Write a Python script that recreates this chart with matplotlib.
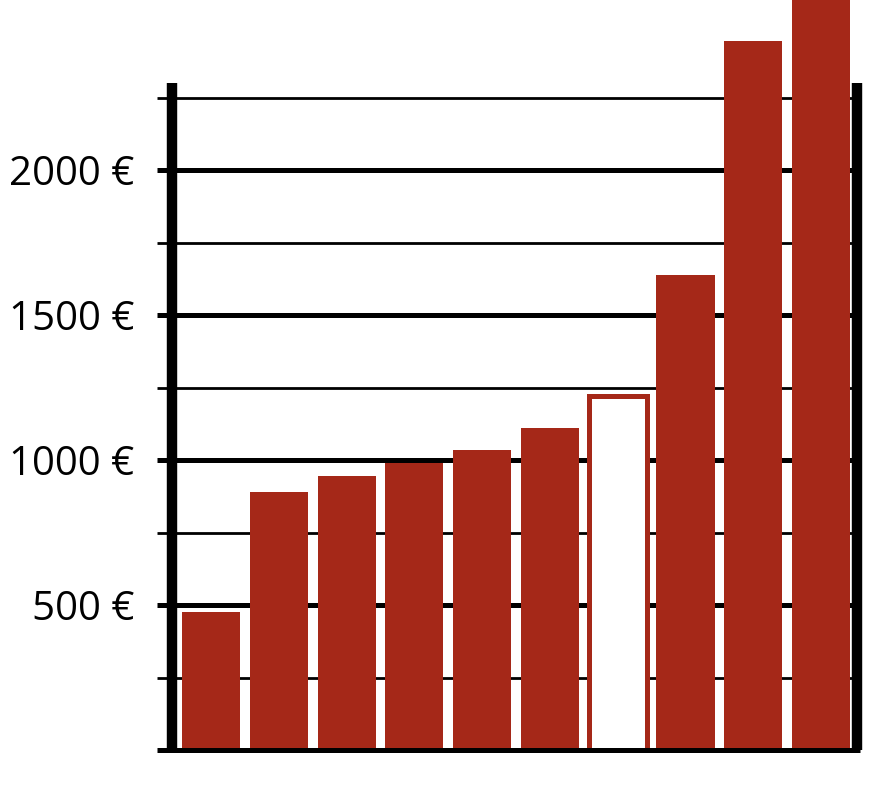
import matplotlib.pyplot as plt
from matplotlib.ticker import FixedLocator

# bar values in euros (last one runs off the top of the picture)
values = [476, 890, 945, 990, 1034, 1110, 1222, 1638, 2445, 2700]
highlight = 6  # outlined bar
major_ticks = [500, 1000, 1500, 2000]
minor_ticks = [250, 750, 1250, 1750, 2250]
tick_labels = ["500 €", "1000 €", "1500 €", "2000 €"]

red = "#a52818"
dpi = 100
fig = plt.figure(figsize=(8.72, 7.86), dpi=dpi)
ax = fig.add_axes([172 / 872, 36 / 786, 685 / 872, 667 / 786])

x = list(range(len(values)))
bars = ax.bar(x, values, width=0.856, color=red, clip_on=False, zorder=3)
bars[highlight].set_facecolor("white")
bars[highlight].set_edgecolor(red)
bars[highlight].set_linewidth(3.6)

ax.set_xlim(-0.575, 9.53)
ax.set_ylim(0, 2300)

ax.yaxis.set_major_locator(FixedLocator(major_ticks))
ax.yaxis.set_minor_locator(FixedLocator(minor_ticks))
ax.set_yticklabels(tick_labels, fontsize=29, family=["Open Sans", "DejaVu Sans"])
ax.tick_params(axis="y", which="major", direction="out", length=11, width=3.6, pad=16, color="black")
ax.tick_params(axis="y", which="minor", direction="out", length=11, width=2.0, color="black")
ax.set_xticks([])

ax.grid(axis="y", which="major", color="black", linewidth=3.6, zorder=1)
ax.grid(axis="y", which="minor", color="black", linewidth=2.0, zorder=1)
ax.set_axisbelow(True)

ax.spines["top"].set_visible(False)
for side in ["left", "right", "bottom"]:
    ax.spines[side].set_capstyle("butt")
ax.spines["left"].set_linewidth(7.5)
ax.spines["right"].set_linewidth(7.5)
ax.spines["bottom"].set_linewidth(3.6)
ax.spines["bottom"].set_bounds(-0.8, 9.58)
ax.spines["bottom"].set_zorder(4)

fig.savefig("out.png", dpi=dpi)
